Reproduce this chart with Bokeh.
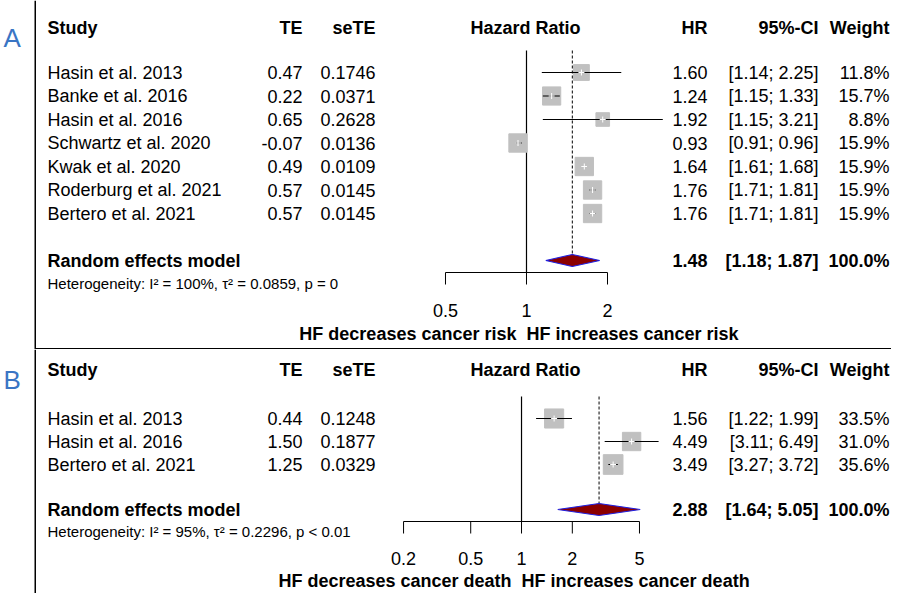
from bokeh.plotting import figure
from bokeh.layouts import column
from bokeh.models import Range1d, Label, BoxAnnotation
from bokeh.embed import file_html
from bokeh.resources import INLINE
from bokeh.core.properties import value

FONT = "Liberation Sans"

# Panel A data
a_study = ["Hasin et al. 2013", "Banke et al. 2016", "Hasin et al. 2016", "Schwartz et al. 2020",
           "Kwak et al. 2020", "Roderburg et al. 2021", "Bertero et al. 2021"]
a_te = ["0.47", "0.22", "0.65", "-0.07", "0.49", "0.57", "0.57"]
a_sete = ["0.1746", "0.0371", "0.2628", "0.0136", "0.0109", "0.0145", "0.0145"]
a_hr = [1.60, 1.24, 1.92, 0.93, 1.64, 1.76, 1.76]
a_lo = [1.14, 1.15, 1.15, 0.91, 1.61, 1.71, 1.71]
a_hi = [2.25, 1.33, 3.21, 0.96, 1.68, 1.81, 1.81]
a_w = [11.8, 15.7, 8.8, 15.9, 15.9, 15.9, 15.9]
a_re = (1.48, 1.18, 1.87)
a_het = "Heterogeneity: I² = 100%, τ² = 0.0859, p = 0"
a_ticks = [0.5, 1, 2]
a_tick_labels = ["0.5", "1", "2"]
a_left = "HF decreases cancer risk"
a_right = "HF increases cancer risk"

# Panel B data
b_study = ["Hasin et al. 2013", "Hasin et al. 2016", "Bertero et al. 2021"]
b_te = ["0.44", "1.50", "1.25"]
b_sete = ["0.1248", "0.1877", "0.0329"]
b_hr = [1.56, 4.49, 3.49]
b_lo = [1.22, 3.11, 3.27]
b_hi = [1.99, 6.49, 3.72]
b_w = [33.5, 31.0, 35.6]
b_re = (2.88, 1.64, 5.05)
b_het = "Heterogeneity: I² = 95%, τ² = 0.2296, p < 0.01"
b_ticks = [0.2, 0.5, 1, 2, 5]
b_tick_labels = ["0.2", "0.5", "1", "2", "5"]
b_left = "HF decreases cancer death"
b_right = "HF increases cancer death"


def lab(p, x, y, text, align="left", bold=False, size=18, color="black"):
    p.add_layout(Label(x=x, y=y, x_units="screen", text=text, text_align=align,
                       text_baseline="middle", text_font=FONT, text_font_size=f"{size}px",
                       text_font_style="bold" if bold else "normal", text_color=color))


def panel(letter, h, xr, study, te, sete, hr, lo, hi, w, re, het, ticks, tlabels, left, right,
          y_head, y0, dy, y_re, y_het, y_axis, y_tl, y_title, sq_scale):
    p = figure(width=891, height=h, x_axis_type="log", x_range=Range1d(*xr),
               y_range=Range1d(h, 0), output_backend="svg", toolbar_location=None,
               min_border=0, outline_line_color=None)
    p.axis.visible = False
    p.grid.visible = False
    p.add_layout(BoxAnnotation(left=34, right=35.5, left_units="screen", right_units="screen",
                               fill_color="black", fill_alpha=1, line_alpha=0))
    lab(p, 3, y_head + 10, letter, size=26, color="#3a75c4")
    # header
    lab(p, 47, y_head, "Study", bold=True)
    lab(p, 302, y_head, "TE", "right", True)
    lab(p, 375, y_head, "seTE", "right", True)
    lab(p, 525, y_head, "Hazard Ratio", "center", True)
    lab(p, 707, y_head, "HR", "right", True)
    lab(p, 818, y_head, "95%-CI", "right", True)
    lab(p, 889, y_head, "Weight", "right", True)
    ys = [y0 + i * dy for i in range(len(study))]
    for i, y in enumerate(ys):
        lab(p, 47, y, study[i])
        lab(p, 302, y, te[i], "right")
        lab(p, 375, y, sete[i], "right")
        lab(p, 707, y, f"{hr[i]:.2f}", "right")
        lab(p, 818, y, f"[{lo[i]:.2f}; {hi[i]:.2f}]", "right")
        lab(p, 889, y, f"{w[i]:.1f}%", "right")
    lab(p, 47, y_re, "Random effects model", bold=True)
    lab(p, 707, y_re, f"{re[0]:.2f}", "right", True)
    lab(p, 818, y_re, f"[{re[1]:.2f}; {re[2]:.2f}]", "right", True)
    lab(p, 889, y_re, "100.0%", "right", True)
    lab(p, 47, y_het, het, size=15)
    # reference lines
    p.segment(x0=[1], x1=[1], y0=[ys[0] - 22], y1=[y_axis], line_color="black", line_width=1.2)
    p.segment(x0=[re[0]], x1=[re[0]], y0=[ys[0] - 22], y1=[y_re], line_color="black",
              line_width=1, line_dash="3 2")
    # squares and CIs
    p.scatter(x=hr, y=ys, marker="square", size=[sq_scale * (wi ** 0.5) for wi in w],
              fill_color="#c0c0c0", line_color="#c0c0c0")
    p.segment(x0=lo, x1=hi, y0=ys, y1=ys, line_color="black", line_width=1)
    p.scatter(x=hr, y=ys, marker="cross", size=6, line_color="white", line_width=1)
    # diamond
    p.patch(x=[re[1], re[0], re[2], re[0]], y=[y_re, y_re - 6, y_re, y_re + 6],
            fill_color="#8b0000", line_color="#2020e0", line_width=1.2)
    # axis
    p.segment(x0=[ticks[0]], x1=[ticks[-1]], y0=[y_axis], y1=[y_axis], line_color="black")
    p.segment(x0=ticks, x1=ticks, y0=[y_axis] * len(ticks), y1=[y_axis + 12] * len(ticks),
              line_color="black")
    p.text(x=ticks, y=[y_tl] * len(ticks), text=tlabels, text_align="center",
           text_baseline="middle", text_font=value(FONT), text_font_size="18px")
    p.text(x=[1, 1], y=[y_title] * 2, text=[left + "  ", "  " + right],
           text_align=["right", "left"], text_baseline="middle", text_font=value(FONT),
           text_font_size="18px", text_font_style="bold")
    return p


pa = panel("A", 349, (0.01110, 22.72), a_study, a_te, a_sete, a_hr, a_lo, a_hi, a_w, a_re,
           a_het, a_ticks, a_tick_labels, a_left, a_right,
           y_head=27, y0=72, dy=23.5, y_re=260, y_het=283, y_axis=272, y_tl=310, y_title=333,
           sq_scale=4.6)
pb = panel("B", 244, (0.000818, 155.7), b_study, b_te, b_sete, b_hr, b_lo, b_hi, b_w, b_re,
           b_het, b_ticks, b_tick_labels, b_left, b_right,
           y_head=20, y0=69, dy=23, y_re=160, y_het=182, y_axis=172, y_tl=209, y_title=231,
           sq_scale=3.3)
pa.add_layout(BoxAnnotation(left=35, right=891, bottom=0, top=1.5, left_units="screen",
                            right_units="screen", bottom_units="screen", top_units="screen",
                            fill_color="black", fill_alpha=1, line_alpha=0))

open("out.html", "w").write(file_html(column(pa, pb, spacing=0), INLINE))
